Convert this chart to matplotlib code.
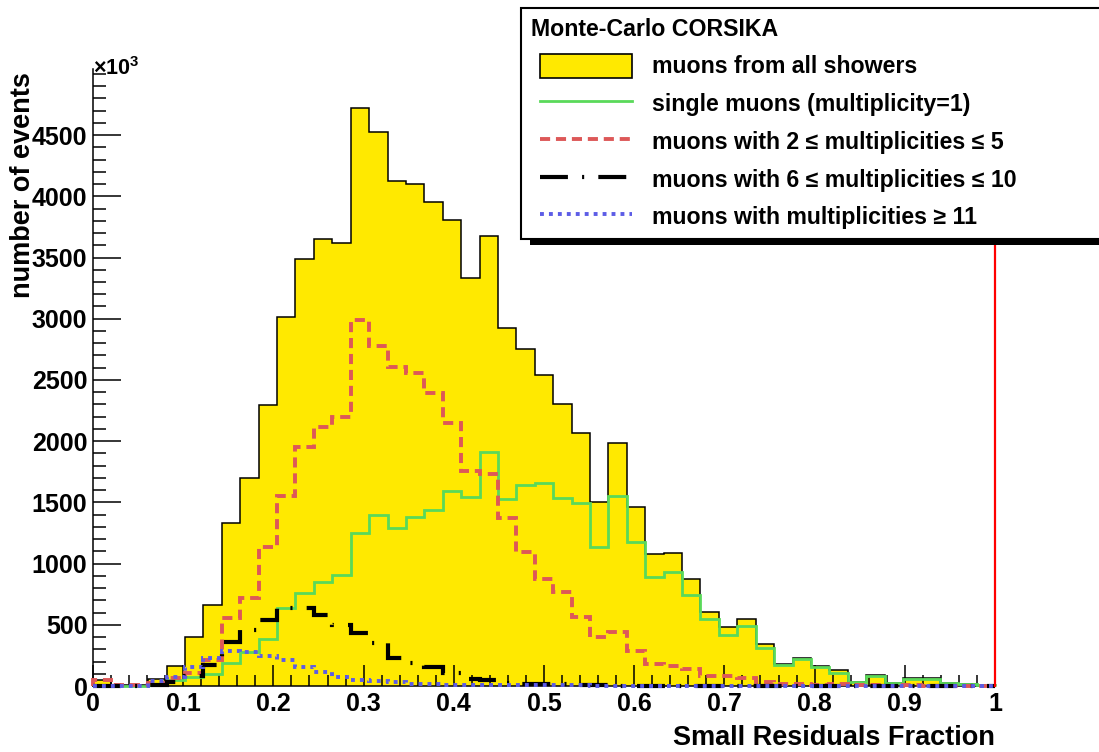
"""
Small residuals fraction for Monte-Carlo CORSIKA muons, split by multiplicity.
"""

import matplotlib.pyplot as plt
import numpy as np
from matplotlib.legend_handler import HandlerLine2D, HandlerPatch
from matplotlib.lines import Line2D
from matplotlib.patches import Patch, Rectangle
from matplotlib.ticker import MultipleLocator

W, H = 1099, 752

N_BINS = 49
edges = np.linspace(0.0, 1.0, N_BINS + 1)

# bin contents in units of 10^3 events
all_showers = [45, 8, 10, 55, 166, 403, 660, 1334, 1702, 2296,
               3012, 3489, 3650, 3622, 4720, 4523, 4128, 4101, 3951, 3807,
               3331, 3676, 2922, 2751, 2538, 2301, 2064, 1500, 1982, 1465,
               1076, 1084, 872, 607, 485, 545, 341, 180, 226, 163,
               131, 35, 90, 25, 63, 63, 25, 15, 10]
single = [0, 0, 2, 10, 45, 75, 100, 185, 280, 380,
          635, 760, 852, 907, 1247, 1397, 1288, 1383, 1438, 1596,
          1541, 1909, 1528, 1642, 1661, 1533, 1498, 1138, 1555, 1179,
          893, 934, 743, 547, 417, 493, 308, 172, 218, 158,
          104, 30, 84, 22, 57, 57, 22, 14, 8]
mult_2_5 = [45, 8, 10, 27, 63, 104, 212, 553, 716, 1138,
            1555, 1955, 2119, 2195, 2990, 2778, 2604, 2555, 2391, 2146,
            1759, 1732, 1375, 1097, 872, 768, 566, 398, 439, 285,
            183, 160, 135, 80, 80, 65, 35, 16, 15, 8,
            20, 5, 5, 3, 5, 3, 2, 2, 1]
mult_6_10 = [0, 0, 2, 10, 30, 80, 172, 360, 458, 540,
             635, 635, 580, 498, 435, 349, 226, 185, 158, 104,
             54, 49, 22, 20, 20, 18, 10, 8, 3, 3,
             2, 2, 2, 1, 1, 1, 1, 1, 0, 0,
             0, 0, 0, 0, 0, 0, 0, 0, 0]
mult_11 = [0, 0, 2, 38, 71, 155, 226, 289, 275, 248,
           210, 152, 117, 71, 49, 41, 30, 14, 14, 12,
           12, 10, 10, 8, 8, 6, 5, 4, 3, 3,
           2, 2, 2, 2, 1, 1, 1, 1, 1, 1,
           1, 0, 0, 0, 0, 0, 0, 0, 0]

x_ticks = np.arange(0, 11) / 10
x_ticklabels = ["0", "0.1", "0.2", "0.3", "0.4", "0.5",
                "0.6", "0.7", "0.8", "0.9", "1"]
y_ticks = np.arange(0, 5000, 500)
y_ticklabels = [str(v) for v in y_ticks]

labels = ["muons from all showers",
          "single muons (multiplicity=1)",
          "muons with 2 \u2264 multiplicities \u2264 5",
          "muons with 6 \u2264 multiplicities \u2264 10",
          "muons with multiplicities \u2265 11"]

YELLOW = "#FFE900"
GREEN = "#5AD95A"
RED = "#DD5858"
BLUE = "#5C5CE6"

RED_DASH = (2.6, 1.5)
BLACK_DASH = (6.7, 3.4, 0.5, 3.4)
BLUE_DASH = (1.0, 1.3)

plt.rcParams["font.family"] = ["Liberation Sans", "DejaVu Sans"]
plt.rcParams["font.weight"] = "bold"
plt.rcParams["mathtext.fontset"] = "custom"
plt.rcParams["mathtext.rm"] = "Liberation Sans"
plt.rcParams["mathtext.bf"] = "Liberation Sans:bold"

fig = plt.figure(figsize=(W / 100, H / 100), dpi=100)
ax = fig.add_axes([93 / W, 1 - 686 / H, (995 - 93) / W, (686 - 69) / H])

ax.stairs(all_showers, edges, fill=True, facecolor=YELLOW,
          edgecolor="none", zorder=1)
ax.stairs(all_showers, edges, color="black", linewidth=1.1, zorder=2)
ax.stairs(single, edges, color=GREEN, linewidth=2.0, zorder=3, clip_on=False)
ax.stairs(mult_2_5, edges, color=RED, linewidth=2.8, zorder=4,
          linestyle=(0, RED_DASH), clip_on=False)
ax.stairs(mult_6_10, edges, color="black", linewidth=3.0, zorder=5,
          linestyle=(0, BLACK_DASH), clip_on=False)
ax.stairs(mult_11, edges, color=BLUE, linewidth=2.8, zorder=6,
          linestyle=(0, BLUE_DASH), clip_on=False)

ax.axvline(1.0, color="red", linewidth=1.6, zorder=7, clip_on=False)

ax.set_xlim(0, 1)
ax.set_ylim(0, 5040)

ax.set_xticks(x_ticks)
ax.set_xticklabels(x_ticklabels)
ax.xaxis.set_minor_locator(MultipleLocator(0.02))
ax.set_yticks(y_ticks)
ax.set_yticklabels(y_ticklabels)
ax.yaxis.set_minor_locator(MultipleLocator(100))

ax.tick_params(axis="x", which="major", direction="in", length=15,
               width=1.1, labelsize=18, pad=4)
ax.tick_params(axis="x", which="minor", direction="in", length=8, width=1.1)
ax.tick_params(axis="y", which="major", direction="in", length=20,
               width=1.1, labelsize=18, pad=4)
ax.tick_params(axis="y", which="minor", direction="in", length=9.5, width=1.1)
for lbl in ax.get_xticklabels() + ax.get_yticklabels():
    lbl.set_fontweight("bold")

ax.spines["top"].set_visible(False)
for side in ("left", "bottom", "right"):
    ax.spines[side].set_linewidth(1.1)

fig.text(93 / W, 1 - 75 / H, r"$\times\mathbf{10}^{3}$", fontsize=15.5,
         ha="left", va="baseline")
fig.text(23.5 / W, 1 - 72 / H, "number of events", rotation=90,
         fontsize=19.5, fontweight="bold", ha="center", va="top")
fig.text(995 / W, 1 - 738 / H, "Small Residuals Fraction",
         fontsize=19.5, fontweight="bold", ha="right", va="center")

handles = [
    Patch(facecolor=YELLOW, edgecolor="black", linewidth=1.2),
    Line2D([], [], color=GREEN, linewidth=2.0),
    Line2D([], [], color=RED, linewidth=2.8, dashes=RED_DASH),
    Line2D([], [], color="black", linewidth=3.0, dashes=BLACK_DASH),
    Line2D([], [], color=BLUE, linewidth=2.8, dashes=BLUE_DASH),
]

# shadow under the legend box
fig.patches.append(Rectangle((530 / W, 1 - 245 / H), 1.0, 8 / H,
                             transform=fig.transFigure, facecolor="black",
                             edgecolor="none", zorder=9))

leg = fig.legend(handles, labels, title="Monte-Carlo CORSIKA",
                 loc="upper left", mode="expand",
                 bbox_to_anchor=(521 / W, 1 - 237 / H, 700 / W, 229 / H),
                 borderaxespad=0, borderpad=0.42, labelspacing=0.56,
                 handlelength=4.35, handleheight=1.2, handletextpad=0.86,
                 handler_map={Patch: HandlerPatch(xpad=0.39),
                              Line2D: HandlerLine2D(xpad=0.39)},
                 fontsize=16.7, title_fontproperties={"weight": "bold",
                                                      "size": 16.7},
                 alignment="left", fancybox=False, framealpha=1,
                 edgecolor="black")
leg.get_frame().set_linewidth(1.5)
leg.set_zorder(10)

fig.savefig("out.png", dpi=100)
